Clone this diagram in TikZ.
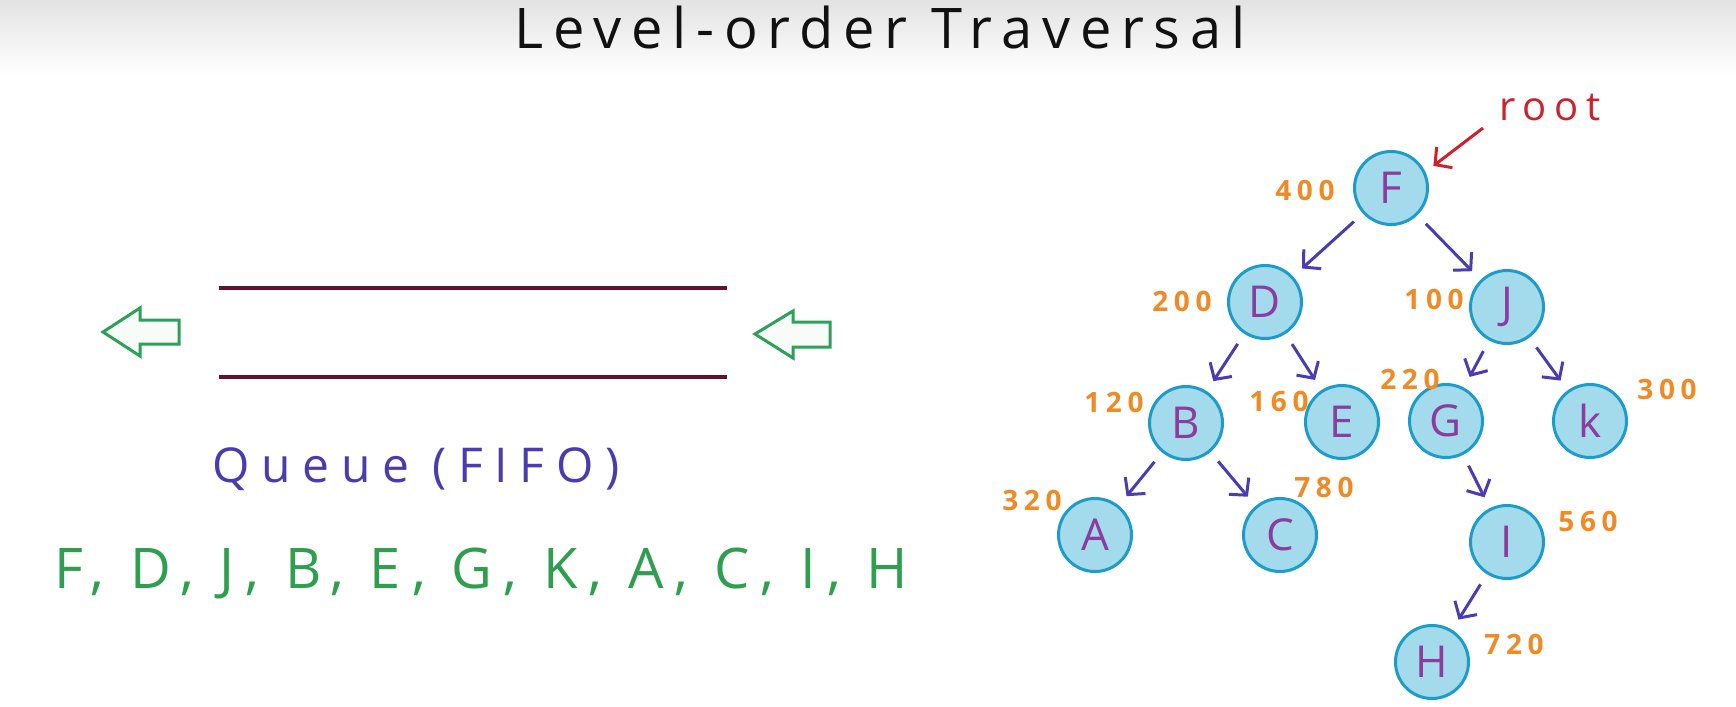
\documentclass[tikz,border=0pt]{standalone}
\usepackage{fontspec}
\setmainfont{Open Sans}
\newfontfamily\handT[LetterSpace=17.5]{Open Sans}
\newfontfamily\handQ[LetterSpace=24]{Open Sans}
\newfontfamily\handS[LetterSpace=20]{Open Sans}
\newfontfamily\handB[LetterSpace=20]{Open Sans}
\usetikzlibrary{arrows.meta,shapes.geometric}
\definecolor{ttl}{HTML}{111111}
\definecolor{qline}{HTML}{5E1430}
\definecolor{garrowc}{HTML}{2EA05A}
\definecolor{garrowf}{HTML}{F8FCF8}
\definecolor{queuec}{HTML}{4A3CAF}
\definecolor{seqc}{HTML}{2F9E4E}
\definecolor{nodefill}{HTML}{A3DAEC}
\definecolor{nodedraw}{HTML}{1E9CC8}
\definecolor{letterc}{HTML}{8C3C9C}
\definecolor{edgec}{HTML}{4B3CB4}
\definecolor{numc}{HTML}{F08A24}
\definecolor{rootc}{HTML}{D0202E}
\begin{document}
\begin{tikzpicture}[x=0.5pt,y=-0.5pt,
  tnode/.style={circle,draw=nodedraw,fill=nodefill,line width=1.5pt,minimum size=36.5pt,inner sep=0pt,
    text=letterc,font=\fontsize{22}{24}\selectfont},
  edge/.style={draw=edgec,line width=1.5pt,shorten <=6pt,shorten >=6pt,
    -{Straight Barb[length=6pt,width=13pt,line width=1.5pt]}},
  num/.style={text=numc,font=\handB\fontsize{14}{16}\selectfont\bfseries,inner sep=0pt},
  qline/.style={draw=qline,line width=2.3pt},
  garrow/.style={draw=garrowc,fill=garrowf,line width=1.5pt,line join=miter},
  txt/.style={inner sep=0pt,anchor=base}]
\useasboundingbox (0,0) rectangle (1736,707);
\fill[white] (0,0) rectangle (1736,707);
\shade[top color=black!11,bottom color=white] (0,0) rectangle (1736,75);

% title
\node[txt,text=ttl,font=\handT\fontsize{28}{30}\selectfont] (title) at (880,48) {Level-order Traversal};

% queue
\draw[qline] (219,288) -- (727,288);
\draw[qline] (219,377) -- (727,377);
\draw[garrow] (103,332) -- (140,308) -- (140,320) -- (179,320) -- (179,344) -- (140,344) -- (140,356) -- cycle;
\draw[garrow] (755,334) -- (793,311) -- (793,322) -- (830,322) -- (830,347) -- (793,347) -- (793,358) -- cycle;
\node[txt,text=queuec,font=\handQ\fontsize{24}{26}\selectfont] (queue) at (416,482) {Queue (FIFO)};
\node[txt,text=seqc,font=\handS\fontsize{28}{30}\selectfont] (seq) at (481,588) {F, D, J, B, E, G, K, A, C, I, H};

% tree
\node[tnode] (F) at (1391,188) {F};
\node[tnode] (D) at (1265,302) {D};
\node[tnode] (J) at (1507,307) {J};
\node[tnode] (B) at (1186,423) {B};
\node[tnode] (E) at (1342,422) {E};
\node[tnode] (G) at (1446,421) {G};
\node[tnode] (K) at (1590,421) {k};
\node[tnode] (A) at (1095,535) {A};
\node[tnode] (C) at (1280,535) {C};
\node[tnode] (I) at (1507,542) {I};
\node[tnode] (H) at (1432,662) {H};

\draw[edge] (F) -- (D);
\draw[edge] (F) -- (J);
\draw[edge] (D) -- (B);
\draw[edge] (D) -- (E);
\draw[edge] (J) -- (G);
\draw[edge] (J) -- (K);
\draw[edge] (B) -- (A);
\draw[edge] (B) -- (C);
\draw[edge] (G) -- (I);
\draw[edge] (I) -- (H);

% numbers
\node[num] (n400) at (1305,190) {400};
\node[num] (n200) at (1182,301) {200};
\node[num] (n100) at (1434,299) {100};
\node[num] (n120) at (1114,402) {120};
\node[num] (n160) at (1279,401) {160};
\node[num] (n220) at (1410,379) {220};
\node[num] (n300) at (1667,389) {300};
\node[num] (n320) at (1032,500) {320};
\node[num] (n780) at (1324,487) {780};
\node[num] (n560) at (1588,521) {560};
\node[num] (n720) at (1514,644) {720};

% root
\node[txt,text=rootc,font=\handB\fontsize{20}{22}\selectfont] (root) at (1550,120) {root};
\coordinate (rs) at (1483,128);
\draw[draw=rootc,line width=1.5pt,shorten >=5pt,-{Straight Barb[length=6pt,width=13pt,line width=1.5pt]}] (rs) -- (F.25);
\end{tikzpicture}
\end{document}
